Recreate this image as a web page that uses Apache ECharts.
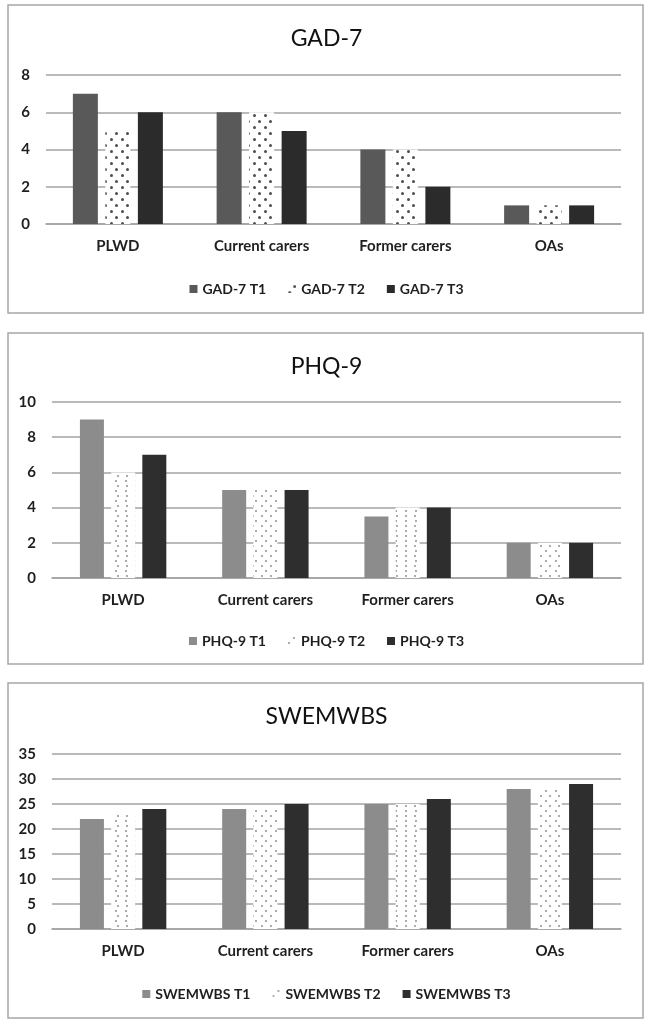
<!DOCTYPE html>
<html>
<head>
<meta charset="utf-8">
<style>
  html, body { margin: 0; padding: 0; background: #fff; }
  #chart { width: 653px; height: 1031px; }
</style>
</head>
<body>
<div id="chart"></div>
<script src="https://cdn.jsdelivr.net/npm/echarts@6/dist/echarts.min.js"></script>
<script>
var groups = ['PLWD', 'Current carers', 'Former carers', 'OAs'];

var gadNames = ['GAD-7 T1', 'GAD-7 T2', 'GAD-7 T3'];
var gadT1 = [7, 6, 4, 1];
var gadT2 = [5, 6, 4, 1];
var gadT3 = [6, 5, 2, 1];

var phqNames = ['PHQ-9 T1', 'PHQ-9 T2', 'PHQ-9 T3'];
var phqT1 = [9, 5, 3.5, 2];
var phqT2 = [6, 5, 4, 2];
var phqT3 = [7, 5, 4, 2];

var swNames = ['SWEMWBS T1', 'SWEMWBS T2', 'SWEMWBS T3'];
var swT1 = [22, 24, 25, 28];
var swT2 = [23, 24, 25, 28];
var swT3 = [24, 25, 26, 29];

var font = 'Lato, "Open Sans", sans-serif';
var txt = '#1f1f1f';
var lineCol = '#a3a3a3';

// panel boxes: [top, height] and plot grid placement
var panels = [
  { box: [5, 308],  title: 'GAD-7',   tTop: 22,  grid: { left: 46, top: 75,  height: 149 }, max: 8,  step: 2, lTop: 277 },
  { box: [333, 331], title: 'PHQ-9',  tTop: 350, grid: { left: 52, top: 402, height: 176 }, max: 10, step: 2, lTop: 629 },
  { box: [683, 335], title: 'SWEMWBS', tTop: 700, grid: { left: 52, top: 754, height: 175 }, max: 35, step: 5, lTop: 982 }
];

var denseDots = {
  symbol: 'circle', symbolSize: 1, color: '#4d4d4d',
  dashArrayX: [[2.5, 7.5], [0, 5, 2.5, 2.5]], dashArrayY: [2.5, 2.5]
};
var sparseDots = {
  symbol: 'circle', symbolSize: 0.9, color: '#858585',
  dashArrayX: [[2, 7], [0, 4.5, 2, 2.5]], dashArrayY: [2, 3]
};

var seriesDefs = [
  { names: gadNames, data: [gadT1, gadT2, gadT3], colors: ['#595959', '#ffffff', '#2b2b2b'], decal: denseDots, bw: 25 },
  { names: phqNames, data: [phqT1, phqT2, phqT3], colors: ['#8c8c8c', '#ffffff', '#2e2e2e'], decal: sparseDots, bw: 24 },
  { names: swNames,  data: [swT1, swT2, swT3],   colors: ['#8c8c8c', '#ffffff', '#2e2e2e'], decal: sparseDots, bw: 24 }
];

var option = {
  animation: false,
  textStyle: { fontFamily: font },
  graphic: panels.map(function (p) {
    return {
      type: 'rect', shape: { x: 8, y: p.box[0], width: 635, height: p.box[1] },
      style: { fill: 'none', stroke: '#a6a6a6', lineWidth: 1.5 }, silent: true
    };
  }),
  title: panels.map(function (p) {
    return {
      text: p.title, left: 'center', top: p.tTop,
      textStyle: { fontFamily: font, fontSize: 23, fontWeight: 'normal', color: '#111' }
    };
  }),
  legend: panels.map(function (p, i) {
    return {
      data: seriesDefs[i].names, top: p.lTop, left: 'center',
      itemWidth: 8, itemHeight: 8, itemGap: 22, icon: 'rect',
      textStyle: { fontFamily: font, fontSize: 14, fontWeight: 'bold', color: txt }
    };
  }),
  grid: panels.map(function (p) {
    return { left: p.grid.left, right: 32, top: p.grid.top, height: p.grid.height, containLabel: false };
  }),
  xAxis: panels.map(function (p, i) {
    return {
      type: 'category', gridIndex: i, data: groups,
      axisLine: { lineStyle: { color: lineCol, width: 1.5 } },
      axisTick: { show: false },
      axisLabel: { margin: 15, fontFamily: font, fontSize: 15, fontWeight: 'bold', color: txt }
    };
  }),
  yAxis: panels.map(function (p, i) {
    return {
      type: 'value', gridIndex: i, min: 0, max: p.max, interval: p.step,
      axisLine: { show: false }, axisTick: { show: false },
      splitLine: { lineStyle: { color: lineCol, width: 1.5 } },
      axisLabel: { margin: 16, fontFamily: font, fontSize: 15, fontWeight: 'bold', color: txt }
    };
  }),
  series: []
};

seriesDefs.forEach(function (d, i) {
  d.names.forEach(function (name, k) {
    var style = { color: d.colors[k] };
    if (k === 1) style.decal = d.decal;
    option.series.push({
      type: 'bar', name: name, xAxisIndex: i, yAxisIndex: i,
      data: d.data[k], barWidth: d.bw, barGap: '30%',
      itemStyle: style
    });
  });
});

var chart = echarts.init(document.getElementById('chart'));
chart.setOption(option);
</script>
</body>
</html>
